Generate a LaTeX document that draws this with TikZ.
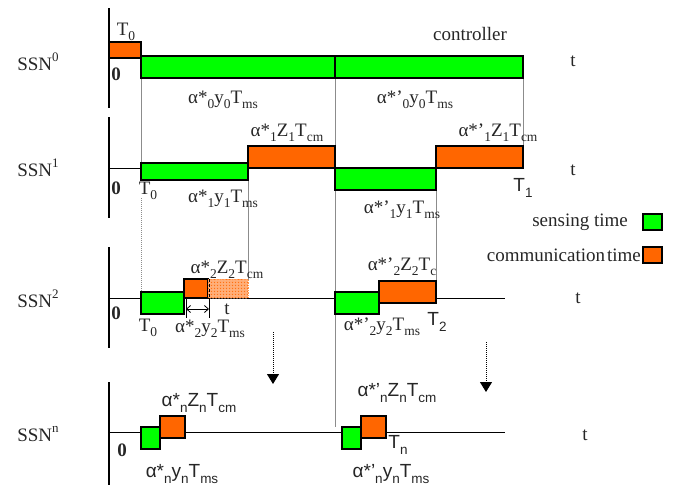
\documentclass[tikz,border=0pt]{standalone}
\usepackage{fontspec}
\setmainfont{Liberation Serif}
\setsansfont{Liberation Sans}
\usetikzlibrary{arrows.meta,patterns}
\definecolor{sensegreen}{HTML}{00FF00}
\definecolor{commorange}{HTML}{FF6600}
\definecolor{guide}{HTML}{8C8C8C}
% small lowered / raised indices in the text font
\newcommand\subtx[1]{\raisebox{-0.28em}{\fontsize{13.5}{13.5}\selectfont #1}}
\newcommand\suptx[1]{\raisebox{0.45em}{\fontsize{13}{13}\selectfont #1}}
\begin{document}
\begin{tikzpicture}[x=1pt,y=-1pt,
  every node/.style={font=\fontsize{19}{22}\selectfont, inner sep=0pt, text=black!85},
  sense/.style={draw=black, line width=1.1pt, fill=sensegreen},
  comm/.style={draw=black, line width=1.1pt, fill=commorange},
  axisline/.style={line width=1.4pt},
  timeline/.style={line width=1pt},
  guideline/.style={guide, line width=1pt},
  sansrow/.style={font=\fontsize{19}{22}\sffamily},
  downarrow/.style={densely dotted, line width=1pt, -{Triangle[length=10pt,width=12pt]}}]
\useasboundingbox (0,0) rectangle (673,485);

% vertical guide lines between the rows
\draw[guideline] (141,78) -- (141,163);
\draw[guideline, densely dotted] (141,198) -- (141,292);
\draw[guideline] (248,180) -- (248,280);
\draw[guideline] (335,78) -- (335,427);
\draw[guideline] (436,190) -- (436,281);
\draw[guideline] (523,78) -- (523,146);

% time axes
\draw[axisline] (109,8) -- (109,108);
\draw[axisline] (109,117) -- (109,218);
\draw[axisline] (109,247) -- (109,348);
\draw[axisline] (109,382) -- (109,485);
\draw[timeline] (109,168) -- (141,168);
\draw[timeline] (109,298) -- (505,298);
\draw[timeline] (109,432) -- (505,432);

% SSN^0 (controller)
\draw[comm] (109,42) rectangle (141,58);
\draw[sense] (141,56) rectangle (335,78);
\draw[sense] (335,56) rectangle (523,78);

% SSN^1
\draw[sense] (141,163) rectangle (248,180);
\draw[comm] (248,146) rectangle (335,168);
\draw[sense] (335,168) rectangle (436,190);
\draw[comm] (436,146) rectangle (523,168);

% SSN^2
\draw[sense] (141,292) rectangle (184,314);
\draw[comm] (184,279) rectangle (208,298);
% possible extra communication time, speckled
\fill[commorange!55] (208,279) rectangle (248,298);
\fill[pattern=crosshatch dots, pattern color=commorange] (208,279) rectangle (248,298);
\fill[pattern=dots, pattern color=white] (208,279) rectangle (248,298);
\draw[commorange!70, densely dotted, line width=0.7pt] (208,279) -- (248,279) -- (248,298);
\draw[densely dashed, line width=0.8pt] (209,279) -- (209,298);
\draw[line width=0.8pt] (186,298) -- (186,318);
\draw[line width=0.8pt] (209,298) -- (209,318);
\draw[{Straight Barb[length=4pt,width=7pt]}-{Straight Barb[length=4pt,width=7pt]}, line width=0.8pt] (186,309) -- (209,309);
\draw[sense] (335,292) rectangle (379,314);
\draw[comm] (379,281) rectangle (436,303);

% SSN^n
\draw[sense] (141,427) rectangle (160,449);
\draw[comm] (160,416) rectangle (185,438);
\draw[sense] (342,427) rectangle (361,449);
\draw[comm] (361,416) rectangle (386,438);

% "and so on" arrows towards SSN^n
\coordinate (arrAtop) at (273,332);
\coordinate (arrAend) at (273,384);
\coordinate (arrBtop) at (486,342);
\coordinate (arrBend) at (486,392);
\draw[downarrow] (arrAtop) -- (arrAend);
\draw[downarrow] (arrBtop) -- (arrBend);

% legend
\draw[sense] (643,214) rectangle (662,230);
\draw[comm] (643,247) rectangle (662,263);
\node[anchor=east] (legsense) at (628,222) {sensing time};
\node[anchor=east] (legcomm) at (641,255) {communication\hspace{0.1em}time};

% row names
\node (ssn0) at (38,62) {SSN\suptx{0}};
\node (ssn1) at (38,168) {SSN\suptx{1}};
\node (ssn2) at (38,299) {SSN\suptx{2}};
\node (ssnn) at (38,434) {SSN\suptx{n}};

% time labels
\node (t0) at (573,61) {t};
\node (t1) at (573,170) {t};
\node (t2) at (578,298) {t};
\node (tn) at (585,435) {t};
\node (tdelta) at (227,309) {t};

% origins
\node (o0) at (116,74) {\textbf{0}};
\node (o1) at (116,188) {\textbf{0}};
\node (o2) at (116,313) {\textbf{0}};
\node (on) at (122,450) {\textbf{0}};

% SSN^0 labels
\node (top0) at (126,32) {T\subtx{0}};
\node (ctrl) at (470,34) {controller};
\node (s0a) at (223,100) {α*\subtx{0}y\subtx{0}T\subtx{ms}};
\node (s0b) at (415,100) {α*'\subtx{0}y\subtx{0}T\subtx{ms}};

% SSN^1 labels
\node (T01) at (148,191) {T\subtx{0}};
\node (s1a) at (223,199) {α*\subtx{1}y\subtx{1}T\subtx{ms}};
\node (c1a) at (287,133) {α*\subtx{1}Z\subtx{1}T\subtx{cm}};
\node (c1b) at (498,133) {α*'\subtx{1}Z\subtx{1}T\subtx{cm}};
\node (s1b) at (402,210) {α*'\subtx{1}y\subtx{1}T\subtx{ms}};
\node[sansrow] (T1) at (523,188) {T\subtx{1}};

% SSN^2 labels
\node (T02) at (148,328) {T\subtx{0}};
\node (s2a) at (210,329) {α*\subtx{2}y\subtx{2}T\subtx{ms}};
\node (c2a) at (227,270) {α*\subtx{2}Z\subtx{2}T\subtx{cm}};
\node (c2b) at (402,267) {α*'\subtx{2}Z\subtx{2}T\subtx{c}};
\node (s2b) at (382,327) {α*'\subtx{2}y\subtx{2}T\subtx{ms}};
\node[sansrow] (T2) at (437,322) {T\subtx{2}};

% SSN^n labels
\node[sansrow] (cna) at (199,403) {α*\subtx{n}Z\subtx{n}T\subtx{cm}};
\node[sansrow] (sna) at (182,474) {α*\subtx{n}y\subtx{n}T\subtx{ms}};
\node[sansrow] (cnb) at (397,393) {α*'\subtx{n}Z\subtx{n}T\subtx{cm}};
\node[sansrow] (Tn) at (398,445) {T\subtx{n}};
\node[sansrow] (snb) at (391,474) {α*'\subtx{n}y\subtx{n}T\subtx{ms}};
\end{tikzpicture}
\end{document}
